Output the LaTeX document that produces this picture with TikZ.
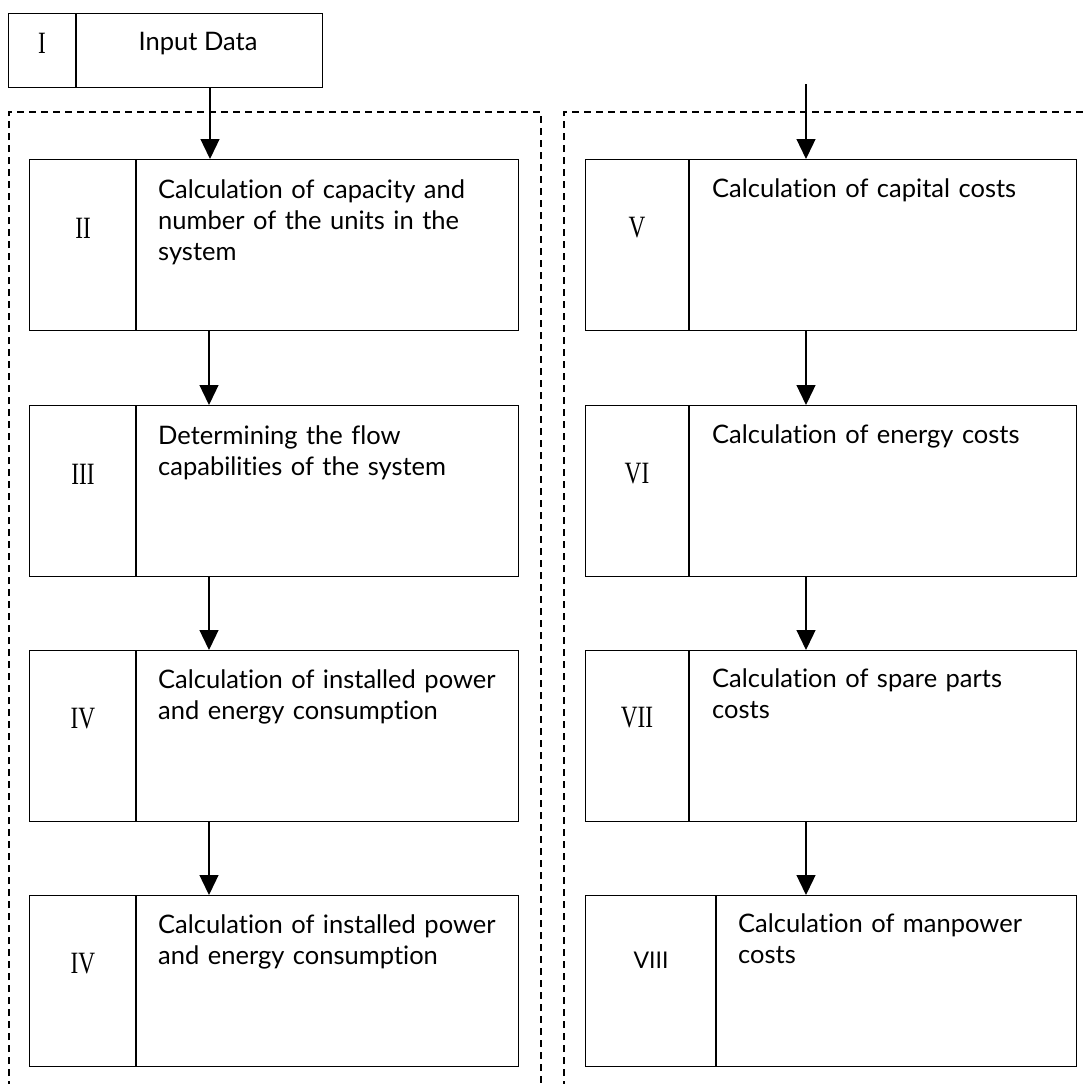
\documentclass[tikz,border=0pt]{standalone}
\usepackage{fontspec}
\setmainfont{Lato}[Ligatures={NoCommon}]
\newfontfamily\numfont[FakeStretch=0.75]{Liberation Serif}
\usetikzlibrary{arrows.meta}
\tikzset{
  box/.style={draw, line width=1.4pt, rectangle, inner sep=0pt, anchor=north west},
  divider/.style={line width=1.4pt},
  dashbox/.style={line width=1.2pt, dash pattern=on 7pt off 5pt},
  arr/.style={line width=1.3pt, -{Triangle[width=19pt,length=20pt]}},
  num/.style={font=\fontsize{31}{31}\numfont, inner sep=0pt},
  numsans/.style={font=\fontsize{23}{23}\selectfont, inner sep=0pt},
  txt/.style={font=\fontsize{25.5}{31}\selectfont, inner sep=0pt, anchor=base west, align=left, text width=360pt},
}
\begin{document}
\begin{tikzpicture}[x=1pt,y=-1pt]
\useasboundingbox (0,0) rectangle (1083,1084);
\clip (0,0) rectangle (1083,1084);
\fill[white] (0,0) rectangle (1083,1084);

% dashed groups
\draw[dashbox] (9,1100) -- (9,112) -- (541,112) -- (541,1100);
\draw[dashbox] (564,1100) -- (564,112) -- (1100,112);

% input box
\node[box, minimum width=314pt, minimum height=74pt] (inp) at (8,13) {};
\draw[divider] ([xshift=68pt]inp.north west) -- ([xshift=68pt]inp.south west);
\node[num] (inpn) at (42,43) {I};
\node[font=\fontsize{25.5}{31}\selectfont, inner sep=0pt, anchor=base] (inpt) at (198,50) {Input Data};

% column x references
\coordinate (lx) at (209,0);
\coordinate (ix) at (210,0);
\coordinate (rx) at (806,0);
\coordinate (rtop) at (806,84);

% left column boxes
\node[box, minimum width=489pt, minimum height=171pt] (b2) at (29,159) {};
\node[box, minimum width=489pt, minimum height=171pt] (b3) at (29,405) {};
\node[box, minimum width=489pt, minimum height=171pt] (b4) at (29,650) {};
\node[box, minimum width=489pt, minimum height=171pt] (b4b) at (29,895) {};
\foreach \b in {b2,b3,b4,b4b}{
  \draw[divider] ([xshift=107pt]\b.north west) -- ([xshift=107pt]\b.south west);
}
\node[num] (n2) at (83,228) {II};
\node[num] (n3) at (83,474) {III};
\node[num] (n4) at (83,719) {IV};
\node[num] (n4b) at (83,964) {IV};
\node[txt] (t2) at (158,198) {Calculation of capacity and\\number of the units in the\\system};
\node[txt] (t3) at (158,444) {Determining the flow\\capabilities of the system};
\node[txt] (t4) at (158,688) {Calculation of installed power\\and energy consumption};
\node[txt] (t4b) at (158,933) {Calculation of installed power\\and energy consumption};

% right column boxes
\node[box, minimum width=491pt, minimum height=171pt] (b5) at (585,159) {};
\node[box, minimum width=491pt, minimum height=171pt] (b6) at (585,405) {};
\node[box, minimum width=491pt, minimum height=171pt] (b7) at (585,650) {};
\node[box, minimum width=491pt, minimum height=171pt] (b8) at (585,895) {};
\foreach \b in {b5,b6,b7}{
  \draw[divider] ([xshift=104pt]\b.north west) -- ([xshift=104pt]\b.south west);
}
\draw[divider] ([xshift=131pt]b8.north west) -- ([xshift=131pt]b8.south west);
\node[num] (n5) at (637,228) {V};
\node[num] (n6) at (637,474) {VI};
\node[num] (n7) at (637,718) {VII};
\node[numsans] (n8) at (651,960) {VIII};
\node[txt] (t5) at (712,197) {Calculation of capital costs};
\node[txt] (t6) at (712,443) {Calculation of energy costs};
\node[txt] (t7) at (712,687) {Calculation of spare parts\\costs};
\node[txt] (t8) at (738,932) {Calculation of manpower\\costs};

% connectors
\draw[arr] (inp.south -| ix) -- (b2.north -| ix);
\draw[arr] (b2.south -| lx) -- (b3.north -| lx);
\draw[arr] (b3.south -| lx) -- (b4.north -| lx);
\draw[arr] (b4.south -| lx) -- (b4b.north -| lx);
\draw[arr] (rtop) -- (b5.north -| rx);
\draw[arr] (b5.south -| rx) -- (b6.north -| rx);
\draw[arr] (b6.south -| rx) -- (b7.north -| rx);
\draw[arr] (b7.south -| rx) -- (b8.north -| rx);
\end{tikzpicture}
\end{document}
